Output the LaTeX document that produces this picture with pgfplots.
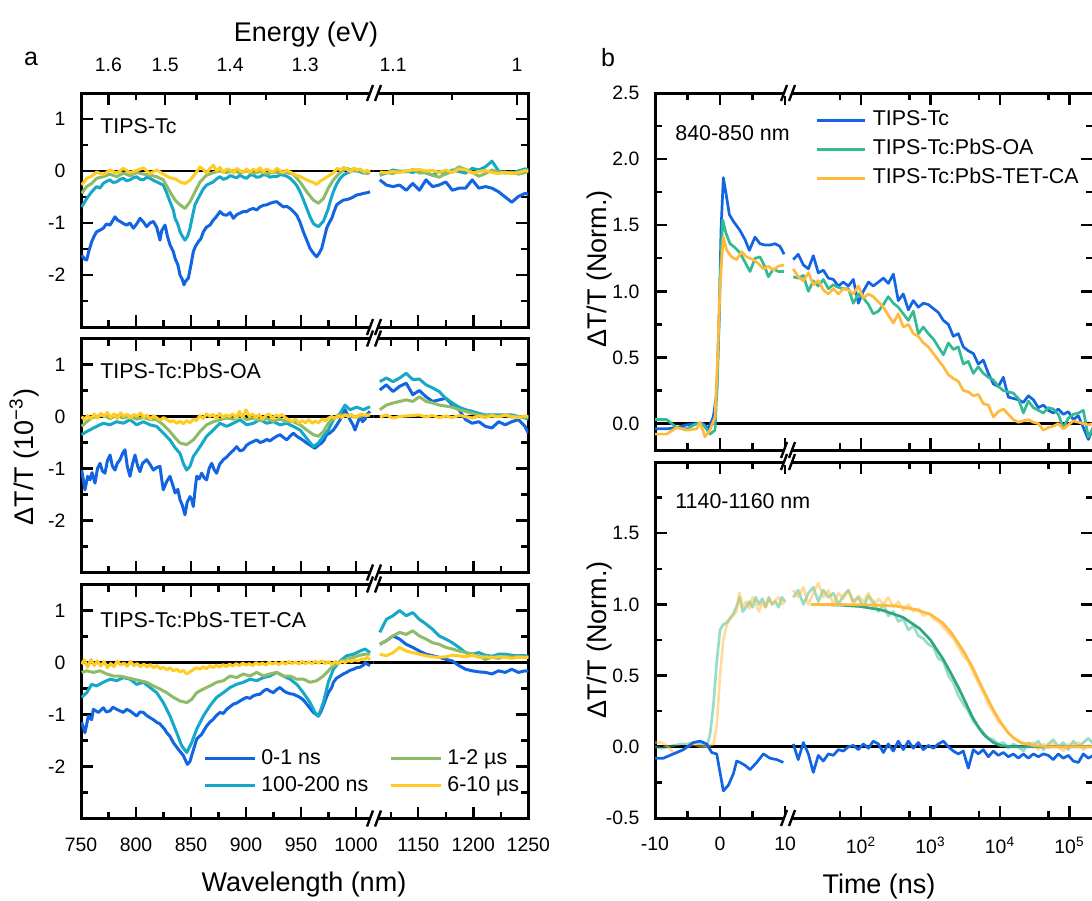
\documentclass[border=0pt]{standalone}
\usepackage{fontspec}
\setmainfont{Liberation Sans}
\usepackage{pgfplots}
\usepackage{pgfplotstable}
\pgfplotsset{compat=1.18}

\definecolor{cb}{RGB}{18,100,226}
\definecolor{cc}{RGB}{22,168,200}
\definecolor{cg}{RGB}{141,187,102}
\definecolor{cy}{RGB}{255,204,36}
\definecolor{tg}{RGB}{52,186,146}
\definecolor{to}{RGB}{255,186,62}

\newcommand\tickfont{\fontsize{9.7}{11}\selectfont}
\newcommand\txtfont{\fontsize{10.7}{12.5}\selectfont}
\newcommand\labfont{\fontsize{13.5}{16}\selectfont}

\pgfplotsset{
  base/.style={scale only axis, anchor=north west, tick align=inside,
    axis line style={line width=1.5pt, line cap=rect},
    every tick/.style={black, line width=1.2pt},
    major tick length=6pt, minor tick length=3.5pt,
    tick label style={font=\tickfont},
    xticklabel shift=6pt, yticklabel shift=4.3pt},
  spec/.style={base, height=117pt, ymin=-3, ymax=1.5,
    ytick={-2,-1,0,1}, minor ytick={-2.5,-1.5,-0.5,0.5},
    every axis plot/.append style={line width=1.5pt, line join=round}},
  specL/.style={spec, width=146.15pt, xmin=750, xmax=1015.7, axis y line*=left,
    xtick={750,800,850,900,950,1000}, minor xtick={775,825,875,925,975},
    yticklabels={-2,-1,0,1}},
  specR/.style={spec, width=77.5pt, xmin=1109.1, xmax=1250, axis y line*=right,
    xtick={1150,1200,1250}, minor xtick={1125,1175,1225}, yticklabel=\empty},
  energy/.style={base, height=117pt, ymin=0, ymax=1, hide y axis, axis x line*=top,
    xticklabel shift=7.3pt},
  kin/.style={base, every axis plot/.append style={line width=1.35pt, line join=round}},
  kinlin/.style={kin, width=66pt, xmin=-10, xmax=10.3, axis y line*=left,
    xtick={-10,0,10}, minor xtick={-5,5}},
  kinlog/.style={kin, width=153pt, xmin=8.615, xmax=2.18e5, axis y line*=right,
    xtick={100,1000,10000,100000}, minor xtick={50,500,5000,50000}, yticklabel=\empty},
  ktop/.style={height=178.5pt, ymin=-0.2, ymax=2.5, ytick={0,0.5,1,1.5,2,2.5},
    minor ytick={0.25,0.75,1.25,1.75,2.25}},
  kbot/.style={height=178pt, ymin=-0.5, ymax=2, ytick={-0.5,0,0.5,1,1.5},
    minor ytick={-0.25,0.25,0.75,1.25,1.75}},
  zero/.style={black, line width=1.4pt, forget plot},
}

% NIR part of the spectra: wavelength, 0-1 ns, 100-200 ns, 1-2 us, 6-10 us
\pgfplotstableread{
w b c g y
1115 -0.17 -0.08 -0.07 -0.02
1121 -0.27 -0.04 -0.03 -0.03
1127 -0.30 0.02 -0.05 -0.01
1133 -0.27 -0.01 0.00 -0.03
1139 -0.37 0.00 -0.02 0.00
1145 -0.24 -0.03 0.03 0.02
1151 -0.37 0.02 -0.04 0.03
1157 -0.17 -0.04 -0.03 0.00
1163 -0.30 -0.08 -0.08 0.01
1169 -0.27 -0.01 -0.12 -0.03
1175 -0.21 -0.06 -0.05 0.02
1181 -0.37 0.02 -0.01 -0.03
1187 -0.33 -0.01 0.08 0.04
1193 -0.33 -0.04 0.03 0.02
1199 -0.17 0.05 -0.02 -0.04
1205 -0.33 0.02 -0.10 -0.01
1211 -0.30 0.08 -0.05 0.01
1217 -0.33 0.19 0.02 -0.03
1223 -0.40 0.00 -0.02 -0.05
1229 -0.50 -0.03 -0.04 -0.02
1235 -0.60 -0.04 -0.02 -0.05
1241 -0.49 0.00 -0.06 -0.03
1247 -0.43 0.04 -0.03 0.01
1250 -0.45 0.03 0.00 0.00
}\nirA
\pgfplotstableread{
w b c g y
1115 0.51 0.67 0.13 -0.01
1121 0.61 0.74 0.22 0.03
1127 0.48 0.67 0.26 -0.03
1133 0.58 0.74 0.29 0.00
1139 0.64 0.83 0.32 0.01
1145 0.42 0.71 0.29 0.02
1151 0.50 0.72 0.38 0.03
1157 0.38 0.61 0.29 -0.01
1163 0.29 0.55 0.26 0.02
1169 0.32 0.48 0.22 -0.02
1175 0.35 0.35 0.20 0.01
1181 0.22 0.26 0.18 -0.02
1187 0.13 0.18 0.13 0.02
1193 -0.06 0.13 0.10 0.00
1199 -0.13 0.10 0.06 -0.03
1205 -0.10 0.06 0.03 0.01
1211 -0.19 0.03 0.02 -0.02
1217 -0.22 0.03 0.01 0.02
1223 -0.10 0.03 0.00 -0.01
1229 -0.16 0.03 0.02 0.03
1235 -0.10 0.03 -0.01 0.00
1241 -0.06 0.00 0.00 -0.02
1247 -0.19 -0.03 -0.02 0.01
1250 -0.32 -0.05 -0.01 0.00
}\nirB
\pgfplotstableread{
w b c g y
1115 0.35 0.58 0.35 0.16
1121 0.42 0.83 0.42 0.13
1127 0.51 0.90 0.51 0.19
1133 0.45 1.00 0.58 0.29
1139 0.35 0.90 0.54 0.22
1145 0.29 0.96 0.61 0.19
1151 0.22 0.83 0.51 0.16
1157 0.16 0.74 0.45 0.13
1163 0.13 0.64 0.38 0.11
1169 0.10 0.51 0.35 0.10
1175 0.06 0.45 0.29 0.11
1181 0.03 0.38 0.26 0.14
1187 -0.06 0.29 0.22 0.13
1193 -0.13 0.19 0.19 0.11
1199 -0.16 0.16 0.16 0.14
1205 -0.18 0.19 0.12 0.10
1211 -0.19 0.14 0.06 0.11
1217 -0.22 0.12 0.10 0.10
1223 -0.16 0.16 0.08 0.11
1229 -0.19 0.16 0.12 0.10
1235 -0.13 0.14 0.10 0.08
1241 -0.19 0.13 0.12 0.10
1247 -0.16 0.13 0.10 0.10
1250 -0.17 0.12 0.10 0.10
}\nirC

% kinetics, log part: time (ns), TIPS-Tc, PbS-OA, PbS-TET-CA
\pgfplotstableread{
t b g o
10.6 1.24 1.11 1.17
12.5 1.28 1.10 1.11
14.8 1.20 1.12 1.08
17.5 1.17 1.00 1.14
20.6 1.27 1.08 1.05
24.3 1.14 1.04 1.08
28.7 1.16 1.09 1.01
33.9 1.10 1.02 0.98
40.0 1.09 1.05 1.02
47.2 1.04 1.03 0.98
55.7 1.07 1.02 1.02
65.8 1.04 1.02 1.01
77.6 1.09 0.91 0.98
91.6 0.91 0.98 1.04
108 1.00 0.95 0.95
128 1.07 0.90 0.98
150 1.04 0.83 0.96
178 1.07 0.85 0.92
210 1.10 0.90 0.88
247 1.06 0.96 0.82
292 1.13 0.91 0.76
344 0.93 0.88 0.83
406 0.98 0.83 0.73
480 0.86 0.78 0.75
566 0.93 0.85 0.68
668 0.88 0.68 0.66
789 0.91 0.73 0.61
931 0.90 0.68 0.58
1099 0.87 0.64 0.53
1297 0.84 0.58 0.48
1531 0.78 0.52 0.43
1807 0.75 0.61 0.37
2133 0.66 0.56 0.34
2512 0.68 0.58 0.32
2965 0.58 0.45 0.25
3500 0.55 0.47 0.24
4130 0.53 0.38 0.21
4875 0.45 0.43 0.22
5754 0.48 0.38 0.15
6792 0.38 0.35 0.14
8017 0.30 0.33 0.05
9462 0.28 0.28 0.09
11170 0.35 0.25 0.11
13180 0.20 0.24 0.07
15560 0.19 0.23 0.03
18360 0.18 0.19 0.01
21680 0.16 0.08 0.02
25590 0.21 0.17 0.03
30200 0.18 0.12 0.01
35650 0.12 0.10 0.00
42070 0.14 0.08 -0.05
49550 0.10 0.12 -0.03
58480 0.08 0.11 -0.02
69030 0.11 0.07 0.00
81470 0.07 -0.03 -0.04
96170 0.09 0.04 -0.01
113500 0.03 0.07 0.02
134000 0.06 0.08 0.01
158100 -0.03 0.10 0.00
186600 -0.12 -0.10 -0.01
220300 -0.03 -0.03 0.00
}\kinA
\pgfplotstableread{
t b g o
10.6 0.02 1.05 1.10
12.5 -0.09 1.10 1.05
14.8 0.03 1.00 1.12
17.5 -0.05 1.08 1.00
20.6 -0.18 1.12 1.08
24.3 -0.06 1.02 1.15
28.7 -0.10 1.10 1.05
33.9 -0.05 1.05 1.10
40.0 -0.06 1.08 1.00
47.2 -0.02 1.00 1.08
55.7 -0.03 1.06 1.04
65.8 0.00 1.10 1.10
77.6 0.01 1.02 1.00
91.6 -0.02 1.05 1.06
108 0.02 0.98 1.02
128 -0.01 1.06 1.08
150 0.04 1.02 0.98
178 0.02 0.95 1.04
210 -0.04 1.00 1.00
247 0.02 0.92 1.05
292 -0.03 0.95 0.98
344 0.04 0.88 1.02
406 -0.02 0.90 0.96
480 0.04 0.82 1.00
566 -0.01 0.85 0.95
668 0.03 0.78 0.97
789 -0.02 0.76 0.92
931 0.01 0.72 0.94
1099 -0.01 0.70 0.90
1297 0.02 0.62 0.88
1531 0.04 0.60 0.84
1807 0.00 0.50 0.80
2133 -0.03 0.45 0.76
2512 -0.05 0.36 0.70
2965 -0.03 0.30 0.64
3500 -0.15 0.25 0.60
4130 -0.02 0.18 0.52
4875 -0.05 0.14 0.45
5754 -0.02 0.10 0.38
6792 -0.07 0.06 0.30
8017 -0.03 0.05 0.24
9462 -0.06 0.02 0.18
11170 -0.04 0.03 0.14
13180 -0.07 -0.01 0.10
15560 -0.05 0.02 0.06
18360 -0.08 0.00 0.04
21680 -0.05 -0.03 0.02
25590 -0.08 0.03 0.00
30200 -0.05 0.01 0.03
35650 -0.07 0.04 -0.02
42070 -0.05 -0.02 0.02
49550 -0.06 0.02 -0.01
58480 -0.09 0.05 0.03
69030 -0.05 0.00 0.00
81470 -0.08 0.03 -0.03
96170 -0.06 -0.02 0.02
113500 -0.10 0.04 0.00
134000 -0.11 0.00 0.03
158100 -0.05 0.03 -0.02
186600 -0.08 0.06 0.01
220300 -0.06 0.02 0.00
}\kinB

\newcommand\brk[2]{%
  \fill[white] ({#1-4},{#2-3}) rectangle ({#1+4},{#2+3});
  \draw[line width=1.2pt] ({#1-7},{#2+8}) -- ({#1-1},{#2-8}) ({#1+1},{#2+8}) -- ({#1+7},{#2-8});}

\begin{document}
\begin{tikzpicture}

%% ---------- panel a, TIPS-Tc ----------
\begin{axis}[specL, at={(40.5pt,-46.5pt)}, xtick pos=left, xticklabel=\empty]
\addplot[zero] coordinates {(750,0) (1016,0)};
\addplot[cb] coordinates {(750.6,-1.62)(753.6,-1.70)(755.2,-1.71)(757,-1.55)(759.7,-1.36)(762,-1.25)(764.2,-1.17)(767,-1.14)(770.3,-1.10)(773,-1.02)(776.4,-1.04)(779,-0.95)(780.9,-0.88)(783,-0.94)(785.5,-0.97)(788.5,-1.01)(791.5,-1.04)(794.5,-1.00)(797.6,-1.10)(800.6,-1.02)(803.6,-0.91)(806.7,-0.98)(809.7,-1.07)(812.7,-1.00)(815.8,-0.97)(818.8,-1.08)(821.8,-1.33)(823.3,-1.15)(826.4,-1.04)(828.5,-1.25)(830.9,-1.42)(833.9,-1.55)(835.5,-1.68)(838,-1.80)(840,-2.00)(842,-2.08)(843.6,-2.19)(845,-2.12)(847.6,-2.06)(850,-1.80)(852.1,-1.55)(854,-1.45)(856.7,-1.36)(859,-1.30)(861.2,-1.17)(864,-1.08)(867.3,-1.04)(870,-0.95)(871.8,-0.91)(874,-0.85)(876.4,-0.78)(879.4,-0.84)(882.4,-0.85)(885.5,-0.80)(888.5,-0.91)(891.5,-0.84)(894.5,-0.81)(897.6,-0.78)(900.6,-0.78)(903.6,-0.74)(906.7,-0.72)(909.7,-0.75)(912.7,-0.69)(915.8,-0.66)(918.8,-0.65)(922,-0.62)(925,-0.60)(927.9,-0.59)(930.9,-0.64)(933.9,-0.69)(937,-0.68)(940,-0.72)(943,-0.78)(946.1,-0.85)(949,-0.98)(952.1,-1.17)(955.2,-1.33)(958.2,-1.49)(961.2,-1.58)(964.2,-1.65)(966.5,-1.58)(968.8,-1.49)(971,-1.30)(973.3,-1.10)(975.5,-1.00)(977.9,-0.91)(980,-0.78)(982.4,-0.65)(985.5,-0.60)(988.5,-0.56)(991.5,-0.55)(994.5,-0.53)(997.6,-0.50)(1000.6,-0.46)(1003.6,-0.45)(1006.7,-0.43)(1009.7,-0.42)(1012.7,-0.40)};
\addplot[cc] coordinates {(750.6,-0.69)(755.2,-0.53)(759.7,-0.40)(764.2,-0.30)(767,-0.33)(770.3,-0.24)(773,-0.20)(776.4,-0.17)(779,-0.22)(782.4,-0.21)(785.5,-0.16)(788.5,-0.14)(791.5,-0.19)(794.5,-0.17)(797.6,-0.13)(800.6,-0.11)(803.6,-0.16)(806.7,-0.17)(809.7,-0.12)(812.7,-0.14)(815.8,-0.18)(818.8,-0.21)(821.8,-0.24)(824.8,-0.27)(827.9,-0.42)(830.9,-0.59)(833.9,-0.75)(835.5,-0.91)(838,-1.02)(840,-1.17)(842,-1.25)(844.5,-1.33)(847,-1.25)(849.1,-1.10)(851,-0.90)(853.6,-0.65)(856,-0.55)(858.2,-0.46)(861,-0.35)(864.2,-0.27)(867.3,-0.24)(870.3,-0.21)(873.3,-0.15)(876.4,-0.11)(879.4,-0.16)(882.4,-0.14)(885.5,-0.09)(888.5,-0.11)(891.5,-0.13)(894.5,-0.08)(897.6,-0.12)(900.6,-0.14)(903.6,-0.08)(906.7,-0.08)(909.7,-0.12)(912.7,-0.11)(915.8,-0.07)(918.8,-0.08)(922,-0.12)(925,-0.10)(927.9,-0.11)(931,-0.07)(934,-0.08)(937,-0.10)(940,-0.14)(943,-0.20)(946.1,-0.28)(949.1,-0.40)(952.1,-0.55)(955.2,-0.72)(958.2,-0.88)(961.2,-1.01)(964,-1.05)(965.8,-1.07)(968,-1.02)(970.3,-0.97)(972.5,-0.85)(974.8,-0.72)(977,-0.55)(979.4,-0.40)(982.4,-0.25)(985.5,-0.14)(988.5,-0.08)(991.5,-0.04)(994.5,-0.02)(997.6,0.02)(1000.6,0.00)(1003.6,-0.01)(1006.7,-0.04)(1009.7,-0.02)(1012.7,-0.03)};
\addplot[cg] coordinates {(750.6,-0.43)(755.2,-0.30)(759.7,-0.24)(764.2,-0.14)(770.3,-0.11)(776.4,-0.06)(782.4,-0.11)(788.5,-0.04)(794.5,-0.09)(800.6,-0.03)(806.7,-0.06)(812.7,-0.08)(818.8,-0.11)(824.8,-0.17)(830.9,-0.40)(835.5,-0.56)(840,-0.65)(844.5,-0.72)(849.1,-0.59)(853.6,-0.40)(858.2,-0.21)(864.2,-0.08)(870.3,-0.03)(876.4,0.00)(882.4,-0.03)(888.5,0.01)(894.5,-0.04)(900.6,0.00)(906.7,-0.05)(912.7,-0.01)(918.8,-0.06)(924.8,-0.02)(930.9,-0.04)(937,-0.03)(943,-0.06)(949.1,-0.21)(955.2,-0.40)(961.2,-0.56)(965.8,-0.62)(970.3,-0.53)(974.8,-0.33)(979.4,-0.17)(985.5,-0.03)(991.5,0.05)(997.6,0.00)(1003.6,0.02)(1009.7,-0.05)(1012.7,-0.03)};
\addplot[cy] coordinates {(750.6,-0.27)(755.2,-0.14)(759.7,-0.10)(764.2,-0.02)(770.3,-0.07)(776.4,0.02)(782.4,-0.04)(788.5,0.05)(794.5,-0.03)(800.6,0.01)(806.7,0.06)(812.7,-0.05)(818.8,0.02)(824.8,-0.06)(830.9,-0.13)(835.5,-0.15)(840,-0.21)(844.5,-0.24)(849.1,-0.18)(853.6,-0.06)(858.2,0.08)(861.2,0.03)(864.2,-0.04)(867.3,0.05)(870.3,0.11)(873.3,0.00)(876.4,0.07)(879.4,-0.03)(882.4,0.04)(885.5,0.02)(888.5,-0.04)(891.5,0.05)(894.5,0.01)(897.6,-0.03)(900.6,0.04)(903.6,-0.02)(906.7,0.03)(909.7,0.00)(912.7,0.06)(915.8,-0.02)(918.8,0.04)(921.8,0.00)(924.8,-0.02)(927.9,0.05)(930.9,0.01)(933.9,-0.03)(937,0.02)(940,-0.02)(943,-0.05)(946.1,-0.09)(949.1,-0.10)(952.1,-0.14)(955.2,-0.17)(958.2,-0.20)(961.2,-0.22)(964.2,-0.26)(967,-0.20)(970.3,-0.16)(973.3,-0.12)(977,-0.07)(980,-0.02)(983,0.05)(986,0.02)(989,0.07)(992,0.03)(995,-0.02)(998,0.06)(1001,0.02)(1004,0.04)(1007,-0.02)(1010,0.01)(1012.7,-0.02)};
\end{axis}
\begin{axis}[specR, at={(186.65pt,-46.5pt)}, xtick pos=left, xticklabel=\empty]
\addplot[zero] coordinates {(1109,0) (1251,0)};
\addplot[cb] table[x=w,y=b] {\nirA};
\addplot[cc] table[x=w,y=c] {\nirA};
\addplot[cg] table[x=w,y=g] {\nirA};
\addplot[cy] table[x=w,y=y] {\nirA};
\end{axis}
% energy scale on top
\begin{axis}[energy, width=146.15pt, at={(40.5pt,-46.5pt)}, xmin=750, xmax=1015.7,
  xtick={774.9,826.56,885.6,953.72}, xticklabels={1.6,1.5,1.4,1.3},
  minor xtick={799.9,855.06,918.4,991.87}]
\end{axis}
\begin{axis}[energy, width=77.5pt, at={(186.65pt,-46.5pt)}, xmin=1109.1, xmax=1250,
  xtick={1127.13,1239.84}, xticklabels={1.1,1}, minor xtick={1180.8}]
\end{axis}

%% ---------- panel a, TIPS-Tc:PbS-OA ----------
\begin{axis}[specL, at={(40.5pt,-169.25pt)}, xticklabel=\empty]
\addplot[zero] coordinates {(750,0) (1016,0)};
\addplot[cb] coordinates {(750.6,-1.03)(753.6,-1.41)(756,-1.15)(758.2,-1.22)(760,-1.08)(762.7,-1.28)(765,-1.00)(767.3,-0.90)(769.5,-1.05)(771.8,-1.09)(774,-0.85)(776.4,-0.74)(778.5,-0.95)(780.9,-1.03)(783,-0.90)(785.5,-0.83)(788,-0.70)(790,-0.64)(792,-0.95)(794.5,-1.15)(797,-0.90)(799.1,-0.74)(801.5,-0.95)(803.6,-1.06)(806,-0.90)(809.7,-0.83)(812.7,-0.92)(815.8,-1.03)(818.8,-0.98)(821.8,-0.96)(823.3,-1.20)(824.8,-1.41)(827.9,-1.25)(830.9,-1.15)(833.9,-1.35)(835.5,-1.47)(838,-1.40)(840,-1.60)(842,-1.70)(844.5,-1.89)(846.5,-1.65)(849.1,-1.54)(850.6,-1.60)(852.1,-1.73)(854,-1.35)(855.2,-1.15)(857.5,-1.20)(859.7,-1.09)(862,-1.18)(864.2,-1.22)(866.5,-1.00)(868.8,-0.90)(871,-1.02)(873.3,-1.09)(876,-0.92)(879.4,-0.83)(882.4,-0.78)(885.5,-0.71)(888.5,-0.65)(891.5,-0.58)(894.5,-0.66)(897.6,-0.64)(900.6,-0.55)(903.6,-0.51)(906.7,-0.48)(909.7,-0.45)(912.7,-0.50)(915.8,-0.48)(918.8,-0.44)(921.8,-0.47)(924.8,-0.42)(927.9,-0.38)(930.9,-0.35)(933.9,-0.40)(937,-0.45)(940,-0.38)(943,-0.32)(946.1,-0.38)(949.1,-0.42)(952.1,-0.46)(955.2,-0.51)(958.2,-0.55)(961,-0.59)(962.7,-0.61)(965.8,-0.55)(968.8,-0.51)(971,-0.45)(973.3,-0.35)(976,-0.32)(979.4,-0.26)(982,-0.18)(985.5,-0.06)(988,0.05)(990,0.13)(992.5,0.02)(994.5,-0.06)(997,-0.15)(999.1,-0.26)(1001.5,-0.12)(1003.6,0.00)(1006,-0.10)(1008.2,-0.05)(1010.5,0.05)(1012.7,0.10)};
\addplot[cc] coordinates {(750.6,-0.35)(755.2,-0.29)(759.7,-0.24)(764.2,-0.19)(770.3,-0.13)(776.4,-0.16)(782.4,-0.10)(788.5,-0.13)(794.5,-0.06)(800.6,-0.16)(806.7,-0.10)(812.7,-0.16)(818.8,-0.19)(824.8,-0.32)(830.9,-0.45)(835.5,-0.60)(840,-0.71)(843,-0.90)(846,-1.03)(849,-0.96)(852.1,-0.77)(858.2,-0.58)(864.2,-0.38)(870.3,-0.26)(876.4,-0.13)(882.4,-0.19)(888.5,-0.13)(894.5,-0.06)(900.6,-0.16)(906.7,-0.13)(912.7,-0.06)(918.8,-0.13)(924.8,-0.10)(930.9,-0.16)(937,-0.13)(943,-0.19)(949.1,-0.26)(955.2,-0.42)(961.2,-0.58)(965.8,-0.51)(970.3,-0.38)(974.8,-0.26)(979.4,-0.06)(985.5,0.06)(990,0.22)(994.5,0.13)(1000.6,0.18)(1006.7,0.13)(1012.7,0.19)};
\addplot[cg] coordinates {(750.6,-0.19)(755.2,-0.10)(759.7,-0.03)(764.2,0.00)(770.3,0.03)(776.4,-0.04)(782.4,0.02)(788.5,-0.03)(794.5,0.01)(800.6,-0.05)(806.7,-0.02)(812.7,-0.06)(818.8,-0.06)(824.8,-0.16)(830.9,-0.29)(836,-0.42)(840,-0.51)(846,-0.54)(852.1,-0.45)(858.2,-0.29)(864.2,-0.16)(870.3,-0.10)(876.4,-0.06)(882.4,-0.03)(888.5,-0.05)(894.5,0.02)(900.6,-0.06)(906.7,-0.03)(912.7,-0.08)(918.8,-0.04)(924.8,-0.09)(930.9,-0.05)(937,-0.10)(943,-0.10)(949.1,-0.16)(955.2,-0.26)(961.2,-0.35)(965.8,-0.38)(970.3,-0.29)(974.8,-0.13)(979.4,-0.03)(985.5,0.03)(991.5,0.03)(997.6,-0.01)(1003.6,0.00)(1009.7,0.03)(1012.7,0.03)};
\addplot[cy] coordinates {(750.6,0.00)(753,-0.06)(756,0.02)(759,-0.05)(762,0.05)(765,-0.03)(768,0.06)(771,0.00)(774,0.08)(777,-0.02)(780,0.05)(783,-0.04)(786,0.07)(789,0.00)(792,0.05)(795,-0.03)(798,0.04)(801,0.00)(804,0.07)(807,-0.02)(810,0.03)(813,-0.05)(816,0.02)(819,-0.03)(822,-0.07)(825,-0.02)(828,-0.06)(831,-0.10)(834,-0.08)(837,-0.13)(840,-0.09)(843,-0.14)(846,-0.08)(849,-0.12)(852,-0.05)(855,-0.08)(858,0.02)(861,-0.04)(864,0.05)(867,0.00)(870,0.04)(873,-0.04)(876,0.06)(879,-0.02)(882,0.03)(885,0.00)(888,0.05)(891,-0.03)(894,0.10)(897,-0.02)(900,0.13)(903,0.00)(906,0.05)(909,-0.03)(912,0.04)(915,-0.05)(918,0.02)(921,0.05)(924,-0.04)(927,0.03)(930,0.00)(933,0.04)(936,-0.03)(939,-0.06)(942,-0.10)(945,-0.05)(948,-0.13)(951,-0.08)(954,-0.12)(957,-0.06)(960,-0.13)(963,-0.09)(966,-0.12)(969,-0.05)(972,-0.08)(975,-0.03)(978,0.00)(981,-0.04)(984,0.02)(987,-0.02)(990,0.03)(993,0.00)(996,0.04)(999,-0.02)(1002,0.02)(1005,0.05)(1008,0.02)(1012.7,0.03)};
\end{axis}
\begin{axis}[specR, at={(186.65pt,-169.25pt)}, xticklabel=\empty]
\addplot[zero] coordinates {(1109,0) (1251,0)};
\addplot[cb] table[x=w,y=b] {\nirB};
\addplot[cc] table[x=w,y=c] {\nirB};
\addplot[cg] table[x=w,y=g] {\nirB};
\addplot[cy] table[x=w,y=y] {\nirB};
\end{axis}

%% ---------- panel a, TIPS-Tc:PbS-TET-CA ----------
\begin{axis}[specL, at={(40.5pt,-292.25pt)}, xticklabels={750,800,850,900,950,1000},
  legend columns=2, transpose legend, legend cell align=left,
  legend style={draw=none, fill=none, at={(0.417,0.303)}, anchor=north west, font=\txtfont,
    inner sep=0pt, row sep=2.9pt, column sep=2.5pt,
    /tikz/every even column/.append style={column sep=10.5pt},
    nodes={inner sep=0pt, text height=8pt, text depth=2.6pt}},
  legend image code/.code={\draw[#1] (0pt,0pt) -- (25pt,0pt);}]
\addplot[zero] coordinates {(750,0) (1016,0)};
\addplot[cb] coordinates {(750.6,-1.15)(753.6,-1.35)(756.7,-1.03)(759.7,-1.10)(761.2,-0.90)(765.8,-0.96)(770.3,-0.87)(773,-0.95)(776.4,-0.93)(779,-0.86)(782.4,-0.90)(785.5,-0.93)(788.5,-0.96)(791.5,-0.90)(794.5,-0.93)(797.6,-0.98)(800.6,-1.03)(803.6,-0.95)(806.7,-0.96)(809.7,-1.02)(812.7,-1.06)(815.8,-1.10)(818.8,-1.15)(821.8,-1.18)(823.3,-1.22)(826,-1.28)(827.9,-1.35)(830.9,-1.42)(833.9,-1.54)(838.5,-1.67)(843,-1.79)(846.7,-1.96)(849.1,-1.90)(850.6,-1.79)(855.2,-1.47)(859.7,-1.38)(864.2,-1.22)(867,-1.15)(870.3,-1.09)(873,-1.02)(876.4,-0.96)(879.4,-0.98)(882.4,-0.90)(885.5,-0.85)(888.5,-0.80)(891.5,-0.78)(894.5,-0.74)(897.6,-0.70)(900.6,-0.67)(903.6,-0.69)(906.7,-0.64)(909.7,-0.62)(912.7,-0.61)(915.8,-0.55)(918.8,-0.51)(921.8,-0.55)(924.8,-0.58)(927.9,-0.52)(930.9,-0.48)(933.9,-0.54)(937,-0.58)(940,-0.60)(943,-0.61)(946.1,-0.64)(949.1,-0.67)(952.1,-0.72)(955.2,-0.80)(958.2,-0.88)(961.2,-0.96)(965.8,-1.03)(968,-0.95)(970.3,-0.83)(972.5,-0.70)(974.8,-0.58)(977.9,-0.48)(979.4,-0.38)(982.4,-0.30)(985.5,-0.26)(988.5,-0.22)(991.5,-0.19)(994.5,-0.15)(997.6,-0.13)(1000.6,-0.10)(1003.6,-0.09)(1006.7,-0.05)(1008.2,0.00)(1010,-0.03)(1012.7,-0.06)};
\addplot[cc] coordinates {(750.6,-0.67)(755.2,-0.58)(759.7,-0.42)(764.2,-0.45)(770.3,-0.38)(776.4,-0.32)(782.4,-0.35)(788.5,-0.29)(794.5,-0.32)(800.6,-0.42)(806.7,-0.38)(812.7,-0.48)(818.8,-0.58)(824.8,-0.77)(830.9,-1.03)(837,-1.35)(841.5,-1.60)(846.1,-1.73)(850.6,-1.54)(855.2,-1.28)(861.2,-1.03)(867.3,-0.83)(873.3,-0.67)(879.4,-0.58)(885.5,-0.48)(891.5,-0.42)(897.6,-0.38)(903.6,-0.32)(909.7,-0.35)(915.8,-0.29)(921.8,-0.26)(927.9,-0.19)(933.9,-0.26)(940,-0.32)(946.1,-0.42)(952.1,-0.58)(958.2,-0.77)(962.7,-0.96)(965.8,-1.03)(970.3,-0.77)(974.8,-0.38)(979.4,-0.13)(985.5,0.03)(991.5,0.13)(997.6,0.16)(1003.6,0.22)(1008.2,0.26)(1012.7,0.19)};
\addplot[cg] coordinates {(750.6,-0.19)(755.2,-0.16)(761.2,-0.19)(767.3,-0.16)(773.3,-0.22)(779.4,-0.26)(785.5,-0.26)(791.5,-0.29)(797.6,-0.32)(803.6,-0.35)(809.7,-0.38)(815.8,-0.45)(821.8,-0.51)(827.9,-0.58)(833.9,-0.67)(840,-0.74)(846.1,-0.77)(850.6,-0.71)(855.2,-0.58)(861.2,-0.51)(867.3,-0.45)(873.3,-0.38)(879.4,-0.35)(885.5,-0.26)(891.5,-0.29)(897.6,-0.22)(903.6,-0.26)(909.7,-0.19)(915.8,-0.26)(921.8,-0.22)(927.9,-0.19)(933.9,-0.26)(940,-0.26)(946.1,-0.32)(952.1,-0.32)(958.2,-0.38)(964.2,-0.35)(970.3,-0.26)(974.8,-0.16)(979.4,-0.06)(985.5,0.00)(991.5,0.06)(997.6,0.10)(1003.6,0.14)(1008.2,0.16)(1012.7,0.16)};
\addplot[cy] coordinates {(750.6,-0.03)(753,0.05)(756,-0.09)(759,0.06)(762,-0.06)(765,0.03)(768,-0.07)(771,0.02)(774,-0.10)(777,-0.02)(780,-0.08)(783,0.03)(786,-0.05)(789,-0.01)(792,-0.07)(795,0.02)(798,-0.06)(801,-0.02)(804,-0.08)(807,-0.03)(810,-0.09)(813,-0.04)(816,-0.10)(819,-0.06)(822,-0.12)(825,-0.09)(828,-0.14)(831,-0.10)(834,-0.16)(837,-0.13)(840,-0.18)(843,-0.15)(846,-0.22)(849,-0.18)(852,-0.14)(855,-0.10)(858,-0.13)(861,-0.08)(864,-0.12)(867,-0.06)(870,-0.10)(873,-0.05)(876,-0.09)(879,-0.04)(882,-0.08)(885,-0.03)(888,-0.07)(891,-0.02)(894,-0.06)(897,-0.01)(900,-0.05)(903,-0.02)(906,-0.06)(909,0.00)(912,-0.04)(915,-0.01)(918,-0.05)(921,0.01)(924,-0.03)(927,0.00)(930,-0.04)(933,0.01)(936,-0.03)(939,0.02)(942,-0.02)(945,0.01)(948,-0.03)(951,0.02)(954,-0.02)(957,0.01)(960,-0.02)(963,0.02)(966,-0.01)(969,0.03)(972,-0.02)(975,0.02)(978,-0.04)(981,0.02)(984,-0.02)(987,0.03)(990,0.00)(993,0.04)(996,0.02)(999,0.05)(1002,0.03)(1005,0.07)(1008,0.06)(1010,0.10)(1012.7,0.05)};
\legend{0-1 ns,100-200 ns,1-2 µs,6-10 µs}
\end{axis}
\begin{axis}[specR, at={(186.65pt,-292.25pt)}, xticklabels={1150,1200,1250}]
\addplot[zero] coordinates {(1109,0) (1251,0)};
\addplot[cb] table[x=w,y=b] {\nirC};
\addplot[cc] table[x=w,y=c] {\nirC};
\addplot[cg] table[x=w,y=g] {\nirC};
\addplot[cy] table[x=w,y=y] {\nirC};
\end{axis}

%% ---------- panel b, 840-850 nm ----------
\begin{axis}[kinlin, ktop, at={(327.5pt,-46.5pt)}, xticklabel=\empty,
  yticklabels={0.0,0.5,1.0,1.5,2.0,2.5}]
\addplot[zero] coordinates {(-10,0) (10.3,0)};
\addplot[cb] coordinates {(-10,-0.04)(-8.2,-0.04)(-6.67,-0.03)(-5.13,-0.01)(-3.59,0)(-2.56,0)(-1.79,-0.04)(-1.03,0.05)(-0.51,0.23)(-0.1,0.83)(0.15,1.46)(0.51,1.86)(0.92,1.74)(1.44,1.58)(2.05,1.53)(3.08,1.46)(3.85,1.39)(4.51,1.31)(5.38,1.41)(6.15,1.36)(6.92,1.35)(7.69,1.35)(8.46,1.36)(9.23,1.34)(9.85,1.28)};
\addplot[tg] coordinates {(-10,0.03)(-8.2,0.03)(-6.67,-0.03)(-5.13,-0.04)(-3.59,0)(-2.56,-0.01)(-1.54,-0.08)(-0.77,-0.05)(-0.41,0.33)(0,1.09)(0.41,1.54)(0.92,1.44)(1.54,1.36)(2.31,1.33)(3.08,1.29)(3.85,1.22)(4.62,1.15)(5.38,1.25)(6.15,1.26)(6.77,1.20)(7.44,1.11)(8.21,1.17)(8.97,1.15)(9.85,1.15)};
\addplot[to] coordinates {(-10,-0.08)(-8.2,-0.08)(-6.67,-0.03)(-5.13,-0.05)(-3.59,-0.04)(-3.08,0.01)(-2.31,-0.10)(-1.54,-0.05)(-0.77,0.05)(-0.41,0.45)(0,1.04)(0.51,1.41)(1.03,1.31)(1.79,1.26)(2.56,1.24)(3.33,1.30)(4.10,1.26)(5.13,1.24)(5.90,1.21)(6.67,1.17)(7.44,1.19)(8.21,1.16)(8.97,1.19)(9.85,1.20)};
\end{axis}
\begin{semilogxaxis}[kinlog, ktop, at={(393.5pt,-46.5pt)}, xticklabel=\empty,
  legend cell align=left,
  legend style={draw=none, fill=none, at={(0.0915,0.954)}, anchor=north west, font=\txtfont,
    inner sep=0pt, row sep=3.9pt, column sep=3.4pt,
    nodes={inner sep=0pt, text height=8pt, text depth=2.6pt}},
  legend image code/.code={\draw[#1] (0pt,0pt) -- (24pt,0pt);}]
\addplot[zero] coordinates {(8,0) (2.3e5,0)};
\addplot[cb] table[x=t,y=b] {\kinA};
\addplot[tg] table[x=t,y=g] {\kinA};
\addplot[to] table[x=t,y=o] {\kinA};
\legend{TIPS-Tc,TIPS-Tc:PbS-OA,TIPS-Tc:PbS-TET-CA}
\end{semilogxaxis}

%% ---------- panel b, 1140-1160 nm ----------
\begin{axis}[kinlin, kbot, at={(327.5pt,-231pt)}, xticklabels={-10,0,10},
  yticklabels={-0.5,0.0,0.5,1.0,1.5}]
\addplot[zero] coordinates {(-10,0) (10.3,0)};
\addplot[tg, opacity=0.5] coordinates {(-10,0.0)(-9,-0.01)(-8,0.0)(-7,0.01)(-6,0.02)(-5,0.02)(-4,0.03)(-3,0.02)(-2,0.0)(-1.5,0.1)(-1,0.3)(-0.5,0.6)(0,0.82)(0.5,0.86)(1,0.87)(1.5,0.9)(2,0.93)(2.5,0.98)(3,1.05)(3.5,0.95)(4,0.98)(4.5,1.02)(5,0.98)(5.5,1.05)(6,1.0)(6.5,1.04)(7,0.98)(7.5,1.05)(8,1.0)(8.5,1.02)(9,0.98)(9.5,1.05)(10,1.02)};
\addplot[to, opacity=0.5] coordinates {(-10,0.03)(-9,0.03)(-8,0.0)(-7,-0.05)(-6,-0.03)(-5,0.0)(-4,0.02)(-3,0.0)(-2,0.0)(-1,0.02)(-0.5,0.15)(0,0.5)(0.5,0.75)(1,0.85)(1.5,0.9)(2,0.92)(2.5,0.95)(3,1.08)(3.5,0.98)(4,1.02)(4.5,0.97)(5,1.05)(5.5,1.0)(6,0.95)(6.5,1.02)(7,0.98)(7.5,1.04)(8,1.0)(8.5,1.03)(9,1.05)(9.5,1.0)(10,1.02)};
\addplot[cb] coordinates {(-10,-0.08)(-8.72,-0.08)(-7.18,-0.05)(-5.64,-0.02)(-4.10,0.03)(-3.08,0.04)(-2.05,0.02)(-1.28,-0.04)(-0.51,-0.05)(0,-0.18)(0.51,-0.31)(1.28,-0.27)(2.05,-0.19)(2.56,-0.10)(3.08,-0.11)(3.85,-0.13)(4.62,-0.16)(5.64,-0.11)(6.67,-0.05)(7.69,-0.08)(8.72,-0.09)(9.74,-0.11)};
\end{axis}
\begin{semilogxaxis}[kinlog, kbot, at={(393.5pt,-231pt)},
  xticklabels={10\textsuperscript{2},10\textsuperscript{3},10\textsuperscript{4},10\textsuperscript{5}}]
\addplot[zero] coordinates {(8,0) (2.3e5,0)};
\addplot[cb] table[x=t,y=b] {\kinB};
\addplot[tg, opacity=0.5] table[x=t,y=g] {\kinB};
\addplot[to, opacity=0.5] table[x=t,y=o] {\kinB};
\addplot[tg!90!black] coordinates {(19,1.0)(50,0.995)(100,0.985)(200,0.96)(400,0.91)(700,0.83)(1000,0.75)(1500,0.62)(2000,0.51)(2500,0.42)(3000,0.34)(3500,0.27)(4000,0.21)(5000,0.13)(6000,0.08)(8000,0.03)(10000,0.01)(15000,0.0)(220000,0.0)};
\addplot[to] coordinates {(19,1.0)(100,0.998)(300,0.99)(600,0.965)(1000,0.93)(1500,0.87)(2000,0.8)(3000,0.67)(4000,0.56)(5000,0.46)(6000,0.38)(8000,0.26)(10000,0.18)(13000,0.1)(16000,0.06)(20000,0.03)(30000,0.01)(50000,0.0)(220000,0.0)};
\end{semilogxaxis}

\begin{scope}[x=0.5pt,y=-0.5pt]
\foreach \Y in {93,327,338.5,572.5,584.5,818.5} {\brk{374}{\Y}}
\foreach \Y in {93,450,462,818} {\brk{788}{\Y}}
\node[font=\labfont, anchor=base] at (304,891) {Wavelength (nm)};
\node[font=\labfont, anchor=base] at (879,893) {Time (ns)};
\node[font=\labfont, anchor=base] at (306,41) {Energy (eV)};
\node[font=\labfont, rotate=90] at (24,457) {ΔT/T (10\textsuperscript{−3})};
\node[font=\labfont, rotate=90] at (600,269) {ΔT/T (Norm.)};
\node[font=\labfont, rotate=90] at (600,640) {ΔT/T (Norm.)};
\node[font=\fontsize{12.5}{14}\selectfont, anchor=base] at (31,65) {a};
\node[font=\fontsize{12.5}{14}\selectfont, anchor=base] at (608,66) {b};
\node[font=\txtfont, anchor=base west, inner sep=0pt] at (100,133) {TIPS-Tc};
\node[font=\txtfont, anchor=base west, inner sep=0pt] at (100,378) {TIPS-Tc:PbS-OA};
\node[font=\txtfont, anchor=base west, inner sep=0pt] at (100,627) {TIPS-Tc:PbS-TET-CA};
\node[font=\txtfont, anchor=base west, inner sep=0pt] at (675,140) {840-850 nm};
\node[font=\txtfont, anchor=base west, inner sep=0pt] at (675,508) {1140-1160 nm};
\end{scope}
\pgfresetboundingbox
\useasboundingbox (0,0) rectangle (546pt,-450pt);
\end{tikzpicture}
\end{document}
